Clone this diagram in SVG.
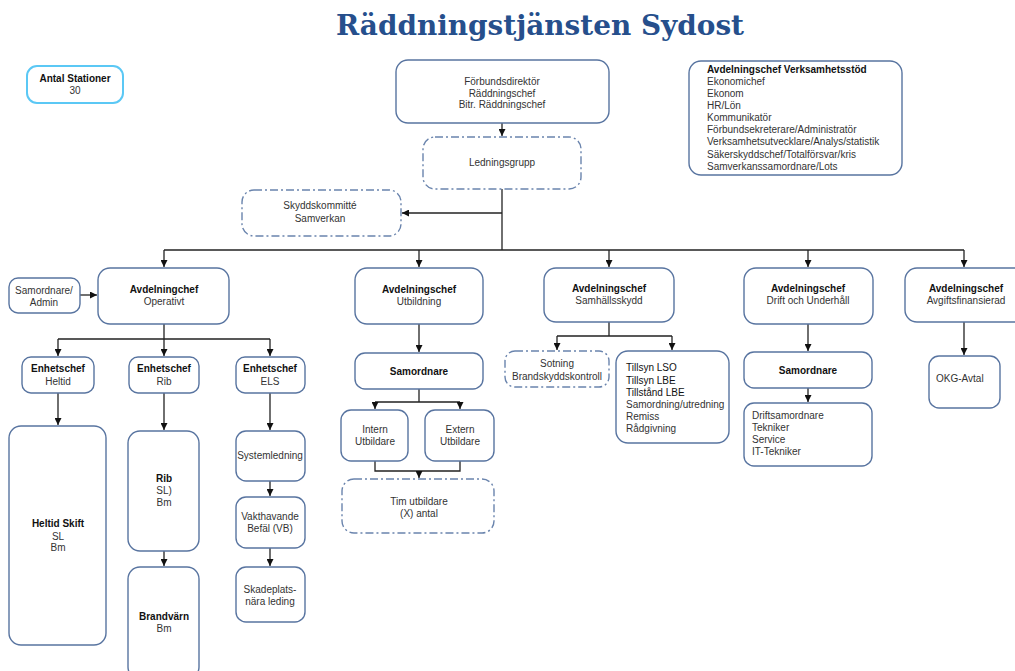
<svg xmlns="http://www.w3.org/2000/svg" width="1015" height="671" viewBox="0 0 1015 671">
<defs>
<style>
.box{fill:#fff;stroke:#5874a0;stroke-width:1.4}
.dbox{fill:#fff;stroke:#6a84ad;stroke-width:1.4;stroke-dasharray:8 3 2 3}
.sbox{fill:#fff;stroke:#5bc8f5;stroke-width:2}
.t{font-family:"Liberation Sans",Arial,sans-serif;font-size:10px;fill:#333}
.c{text-anchor:middle}
.b{font-weight:bold;fill:#111}
.k{fill:#111}
.con path{fill:none;stroke:#222;stroke-width:1.3}
.title{font-family:"DejaVu Serif","Liberation Serif",serif;font-weight:bold;font-size:27px;fill:#264f8c}
</style>
<marker id="ar" viewBox="0 0 10 10" refX="10" refY="5" markerWidth="7" markerHeight="7" markerUnits="userSpaceOnUse" orient="auto">
<path d="M0,0 L10,5 L0,10 z" fill="#111"/>
</marker>
</defs>
<rect width="1015" height="671" fill="#fff"/>
<text class="title" x="540" y="35" text-anchor="middle" textLength="408" lengthAdjust="spacingAndGlyphs">Räddningstjänsten Sydost</text>

<g class="con">
<path d="M502,123 V136" marker-end="url(#ar)"/>
<path d="M502,189 V250"/>
<path d="M164,250 H964"/>
<path d="M502,213 H402" marker-end="url(#ar)"/>
<path d="M164,250 V267" marker-end="url(#ar)"/>
<path d="M419,250 V267" marker-end="url(#ar)"/>
<path d="M609,250 V267" marker-end="url(#ar)"/>
<path d="M808,250 V267" marker-end="url(#ar)"/>
<path d="M964,250 V267" marker-end="url(#ar)"/>
<path d="M80,295 H97" marker-end="url(#ar)"/>
<path d="M164,324 V339 M58,339 H270"/>
<path d="M58,339 V356" marker-end="url(#ar)"/>
<path d="M164,339 V356" marker-end="url(#ar)"/>
<path d="M270,339 V356" marker-end="url(#ar)"/>
<path d="M58,393 V425" marker-end="url(#ar)"/>
<path d="M164,393 V430" marker-end="url(#ar)"/>
<path d="M164,551 V566" marker-end="url(#ar)"/>
<path d="M270,393 V430" marker-end="url(#ar)"/>
<path d="M270,481 V496" marker-end="url(#ar)"/>
<path d="M270,548 V566" marker-end="url(#ar)"/>
<path d="M419,324 V352" marker-end="url(#ar)"/>
<path d="M419,389 V402 M375,402 H460"/>
<path d="M375,402 V409" marker-end="url(#ar)"/>
<path d="M460,402 V409" marker-end="url(#ar)"/>
<path d="M375,461 V471 H460 V461"/>
<path d="M419,471 V478" marker-end="url(#ar)"/>
<path d="M609,322 V336 M557,336 H672"/>
<path d="M557,336 V350" marker-end="url(#ar)"/>
<path d="M672,336 V350" marker-end="url(#ar)"/>
<path d="M808,324 V351" marker-end="url(#ar)"/>
<path d="M808,388 V402" marker-end="url(#ar)"/>
<path d="M964,322 V355" marker-end="url(#ar)"/>
</g>

<g id="antal">
<rect class="sbox" x="27" y="66" width="96" height="37" rx="10"/>
<text class="t c b" x="75" y="82">Antal Stationer</text>
<text class="t c" x="75" y="94">30</text>
</g>

<g id="ledning-top">
<rect class="box" x="396" y="60" width="213" height="63" rx="12"/>
<text class="t c" x="502" y="85">Förbundsdirektör</text>
<text class="t c" x="502" y="97">Räddningschef</text>
<text class="t c" x="502" y="108">Bitr. Räddningschef</text>
</g>

<g id="ledningsgrupp">
<rect class="dbox" x="423" y="137" width="158" height="52" rx="12"/>
<text class="t c" x="502" y="166">Ledningsgrupp</text>
</g>

<g id="skyddskommitte">
<rect class="dbox" x="242" y="190" width="159" height="46" rx="12"/>
<text class="t c" x="320" y="209">Skyddskommitté</text>
<text class="t c" x="320" y="222">Samverkan</text>
</g>

<g id="verksamhetsstod">
<rect class="box" x="689" y="61" width="213" height="114" rx="12"/>
<text class="t b" x="707" y="73">Avdelningschef Verksamhetsstöd</text>
<text class="t" x="707" y="85">Ekonomichef</text>
<text class="t" x="707" y="97">Ekonom</text>
<text class="t" x="707" y="109">HR/Lön</text>
<text class="t" x="707" y="121">Kommunikatör</text>
<text class="t" x="707" y="133">Förbundsekreterare/Administratör</text>
<text class="t" x="707" y="145">Verksamhetsutvecklare/Analys/statistik</text>
<text class="t" x="707" y="158">Säkerskyddschef/Totalförsvar/kris</text>
<text class="t" x="707" y="170">Samverkanssamordnare/Lots</text>
</g>

<g id="samordnare-admin">
<rect class="box" x="9" y="278" width="71" height="35" rx="9"/>
<text class="t c" x="44" y="294">Samordnare/</text>
<text class="t c" x="44" y="306">Admin</text>
</g>

<g id="operativt">
<rect class="box" x="98" y="268" width="131" height="56" rx="12"/>
<text class="t c b" x="164" y="293">Avdelningchef</text>
<text class="t c" x="164" y="305">Operativt</text>
</g>

<g id="enhet-heltid">
<rect class="box" x="22" y="357" width="72" height="36" rx="9"/>
<text class="t c b" x="58" y="372">Enhetschef</text>
<text class="t c" x="58" y="385">Heltid</text>
</g>
<g id="enhet-rib">
<rect class="box" x="129" y="357" width="70" height="36" rx="9"/>
<text class="t c b" x="164" y="372">Enhetschef</text>
<text class="t c" x="164" y="385">Rib</text>
</g>
<g id="enhet-els">
<rect class="box" x="236" y="357" width="69" height="36" rx="9"/>
<text class="t c b" x="270" y="372">Enhetschef</text>
<text class="t c" x="270" y="385">ELS</text>
</g>

<g id="heltid-skift">
<rect class="box" x="9" y="426" width="97" height="219" rx="12"/>
<text class="t c b" x="58" y="527">Heltid Skift</text>
<text class="t c" x="58" y="540">SL</text>
<text class="t c" x="58" y="551">Bm</text>
</g>

<g id="rib">
<rect class="box" x="128" y="431" width="71" height="120" rx="12"/>
<text class="t c b" x="164" y="482">Rib</text>
<text class="t c" x="164" y="494">SL)</text>
<text class="t c" x="164" y="506">Bm</text>
</g>

<g id="brandvarn">
<rect class="box" x="128" y="567" width="71" height="112" rx="12"/>
<text class="t c b" x="164" y="620">Brandvärn</text>
<text class="t c" x="164" y="632">Bm</text>
</g>

<g id="systemledning">
<rect class="box" x="236" y="431" width="69" height="50" rx="10"/>
<text class="t c" x="270" y="459">Systemledning</text>
</g>
<g id="vakthavande">
<rect class="box" x="236" y="497" width="69" height="51" rx="10"/>
<text class="t c" x="270" y="520">Vakthavande</text>
<text class="t c" x="270" y="532">Befäl (VB)</text>
</g>
<g id="skadeplats">
<rect class="box" x="236" y="567" width="69" height="55" rx="10"/>
<text class="t c" x="270" y="593">Skadeplats-</text>
<text class="t c" x="270" y="605">nära leding</text>
</g>

<g id="utbildning">
<rect class="box" x="355" y="268" width="128" height="56" rx="12"/>
<text class="t c b" x="419" y="293">Avdelningschef</text>
<text class="t c" x="419" y="305">Utbildning</text>
</g>
<g id="samordnare-utb">
<rect class="box" x="355" y="353" width="128" height="36" rx="10"/>
<text class="t c b" x="419" y="375">Samordnare</text>
</g>
<g id="intern">
<rect class="box" x="341" y="410" width="67" height="51" rx="10"/>
<text class="t c" x="375" y="433">Intern</text>
<text class="t c" x="375" y="445">Utbildare</text>
</g>
<g id="extern">
<rect class="box" x="425" y="410" width="69" height="51" rx="10"/>
<text class="t c" x="460" y="433">Extern</text>
<text class="t c" x="460" y="445">Utbildare</text>
</g>
<g id="tim">
<rect class="dbox" x="342" y="479" width="152" height="54" rx="12"/>
<text class="t c" x="419" y="505">Tim utbildare</text>
<text class="t c" x="419" y="517">(X) antal</text>
</g>

<g id="samhallsskydd">
<rect class="box" x="544" y="268" width="130" height="54" rx="12"/>
<text class="t c b" x="609" y="292">Avdelningschef</text>
<text class="t c" x="609" y="304">Samhällsskydd</text>
</g>
<g id="sotning">
<rect class="dbox" x="505" y="351" width="104" height="36" rx="10"/>
<text class="t c" x="557" y="367">Sotning</text>
<text class="t c" x="557" y="380">Brandskyddskontroll</text>
</g>
<g id="tillsyn">
<rect class="box" x="616" y="351" width="113" height="92" rx="12"/>
<text class="t k" x="626" y="371">Tillsyn LSO</text>
<text class="t k" x="626" y="384">Tillsyn LBE</text>
<text class="t k" x="626" y="396">Tillstånd LBE</text>
<text class="t" x="626" y="408">Samordning/utredning</text>
<text class="t" x="626" y="420">Remiss</text>
<text class="t" x="626" y="432">Rådgivning</text>
</g>

<g id="drift">
<rect class="box" x="744" y="268" width="129" height="56" rx="12"/>
<text class="t c b" x="808" y="292">Avdelningschef</text>
<text class="t c" x="808" y="304">Drift och Underhåll</text>
</g>
<g id="samordnare-drift">
<rect class="box" x="744" y="352" width="128" height="36" rx="10"/>
<text class="t c b" x="808" y="374">Samordnare</text>
</g>
<g id="driftsamordnare">
<rect class="box" x="744" y="403" width="128" height="63" rx="10"/>
<text class="t" x="752" y="419">Driftsamordnare</text>
<text class="t" x="752" y="431">Tekniker</text>
<text class="t" x="752" y="443">Service</text>
<text class="t" x="752" y="455">IT-Tekniker</text>
</g>

<g id="avgift">
<rect class="box" x="905" y="268" width="122" height="54" rx="12"/>
<text class="t c b" x="966" y="292">Avdelningschef</text>
<text class="t c" x="966" y="304">Avgiftsfinansierad</text>
</g>
<g id="okg">
<rect class="box" x="929" y="356" width="71" height="52" rx="10"/>
<text class="t" x="936" y="382">OKG-Avtal</text>
</g>
</svg>
